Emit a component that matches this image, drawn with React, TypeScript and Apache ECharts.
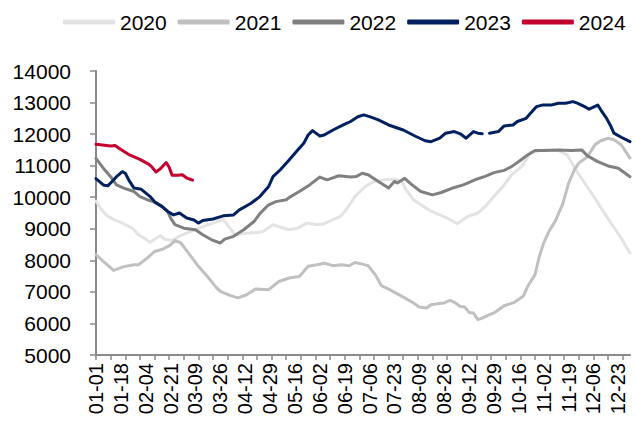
import React, { useEffect, useRef } from "react";
import * as echarts from "echarts";

// Category axis: every day of a leap year, labelled MM-DD
const monthLengths = [31, 29, 31, 30, 31, 30, 31, 31, 30, 31, 30, 31];
const categories: string[] = [];
monthLengths.forEach((n, m) => {
  for (let d = 1; d <= n; d++) {
    categories.push(String(m + 1).padStart(2, "0") + "-" + String(d).padStart(2, "0"));
  }
});

const yTicks = [5000, 14000, 1000]; // min, max, step

const dates2020 = ["01-01","01-04","01-08","01-13","01-18","01-21","01-26","01-30","02-03","02-07","02-10","02-14","02-17","02-22","02-26","03-03","03-09","03-14","03-21","03-28","04-01","04-05","04-13","04-20","04-24","05-01","05-06","05-12","05-18","05-24","05-31","06-05","06-11","06-16","06-20","06-23","06-26","07-03","07-09","07-16","07-23","07-28","07-31","08-05","08-10","08-17","08-24","08-29","09-04","09-11","09-18","09-23","09-29","10-06","10-11","10-18","10-24","11-01","11-12","11-18","11-24","11-30","12-07","12-12","12-18","12-25","12-31"];
const values2020 = [9880,9650,9440,9290,9200,9130,9020,8810,8700,8570,8670,8780,8670,8630,8740,8860,8970,9070,9180,9300,9050,8810,8860,8880,8910,9130,9050,8970,9020,9180,9130,9160,9290,9390,9600,9810,10020,10340,10500,10550,10570,10500,10230,9920,9760,9560,9420,9320,9160,9390,9500,9700,10020,10390,10710,10970,11400,11500,11480,11340,10870,10450,9970,9600,9180,8700,8230];

const dates2021 = ["01-01","01-06","01-13","01-20","01-27","01-30","02-05","02-10","02-16","02-21","02-24","02-28","03-05","03-11","03-18","03-23","03-26","04-02","04-07","04-13","04-19","04-28","05-05","05-12","05-19","05-25","05-31","06-05","06-11","06-17","06-22","06-26","07-01","07-05","07-10","07-14","07-19","07-24","07-30","08-05","08-09","08-14","08-17","08-23","08-26","08-30","09-02","09-06","09-09","09-12","09-15","09-18","09-21","09-26","09-29","10-06","10-13","10-19","10-22","10-27","10-30","11-02","11-06","11-10","11-15","11-19","11-23","11-26","12-02","12-07","12-11","12-16","12-20","12-25","12-31"];
const values2021 = [8180,7965,7680,7800,7860,7860,8070,8280,8360,8490,8630,8550,8180,7810,7440,7150,7015,6880,6810,6910,7090,7070,7330,7440,7490,7810,7860,7910,7830,7860,7830,7930,7880,7830,7540,7200,7090,6960,6810,6650,6520,6490,6590,6630,6650,6730,6670,6540,6520,6350,6330,6120,6170,6280,6330,6560,6670,6860,7170,7540,8120,8550,8950,9250,9780,10440,10870,11080,11290,11660,11790,11870,11820,11660,11240];

const dates2022 = ["01-01","01-06","01-11","01-15","01-20","01-27","01-31","02-05","02-09","02-15","02-19","02-21","02-24","03-01","03-09","03-14","03-20","03-26","03-29","04-04","04-11","04-18","04-22","04-28","05-03","05-10","05-13","05-19","05-26","06-02","06-07","06-15","06-23","06-27","07-01","07-05","07-12","07-19","07-23","07-25","07-30","08-04","08-10","08-18","08-24","09-02","09-08","09-11","09-17","09-23","09-29","10-06","10-11","10-16","10-22","10-27","11-03","11-12","11-21","11-28","12-02","12-09","12-16","12-23","12-31"];
const values2022 = [11230,10920,10650,10390,10290,10180,10020,9920,9860,9710,9550,9340,9130,9020,8970,8810,8650,8550,8670,8760,8970,9230,9480,9760,9860,9920,10020,10180,10390,10640,10550,10680,10640,10660,10760,10710,10500,10290,10500,10450,10600,10390,10180,10075,10150,10310,10390,10450,10570,10660,10780,10850,10970,11130,11340,11480,11480,11500,11480,11500,11310,11130,10990,10920,10650];

const dates2023 = ["01-01","01-06","01-09","01-12","01-15","01-19","01-21","01-24","01-27","02-01","02-07","02-10","02-15","02-19","02-23","02-27","03-03","03-08","03-11","03-14","03-21","03-28","04-04","04-08","04-16","04-22","04-28","05-01","05-06","05-12","05-17","05-22","05-25","05-28","06-02","06-05","06-11","06-18","06-23","06-28","07-02","07-07","07-12","07-19","07-29","08-06","08-13","08-17","08-23","08-27","09-02","09-06","09-10","09-15","09-18","09-21","09-23","09-26","10-02","10-06","10-12","10-15","10-21","10-24","10-28","11-01","11-07","11-12","11-17","11-22","11-25","11-30","12-03","12-09","12-11","12-15","12-18","12-20","12-25","12-31"];
const values2023: (number | null)[] = [10590,10390,10360,10500,10650,10810,10760,10500,10290,10250,10020,9860,9710,9550,9440,9500,9340,9280,9180,9260,9310,9410,9440,9600,9810,10020,10340,10650,10870,11180,11450,11710,11970,12110,11940,11970,12130,12290,12400,12550,12610,12540,12450,12290,12130,11940,11790,11760,11870,12030,12080,12010,11870,12080,12030,12010,null,12030,12080,12260,12290,12400,12500,12660,12870,12920,12920,12980,12980,13030,12980,12870,12790,12920,12770,12500,12240,12030,11900,11760];

const dates2024 = ["01-01","01-11","01-14","01-18","01-24","01-31","02-06","02-08","02-11","02-14","02-18","02-20","02-22","02-26","02-29","03-03","03-07"];
const values2024 = [11680,11620,11640,11510,11340,11200,11050,10970,10800,10900,11100,10950,10700,10700,10710,10610,10540];

const seriesNames = ["2020", "2021", "2022", "2023", "2024"];
const seriesColors = ["#e3e3e3", "#c0c0c0", "#808080", "#002060", "#c4002f"];

const toPairs = (dates: string[], vals: (number | null)[]) =>
  dates.map((d, i) => [categories.indexOf(d), vals[i]]);

const FONT = 'Arial, "Liberation Sans", sans-serif';

export default function App() {
  const ref = useRef<HTMLDivElement>(null);
  useEffect(() => {
    if (!ref.current) return;
    const chart = echarts.init(ref.current, undefined, { renderer: "svg" });
    const data = [
      toPairs(dates2020, values2020),
      toPairs(dates2021, values2021),
      toPairs(dates2022, values2022),
      toPairs(dates2023, values2023),
      toPairs(dates2024, values2024),
    ];
    chart.setOption({
      animation: false,
      backgroundColor: "#ffffff",
      textStyle: { fontFamily: FONT },
      legend: {
        left: 58,
        top: 6,
        width: 600,
        itemWidth: 52,
        itemHeight: 5,
        itemGap: 11,
        icon: "roundRect",
        textStyle: { fontSize: 21, color: "#000", fontFamily: FONT, lineHeight: 22 },
        data: seriesNames,
      },
      grid: { left: 96, right: 5, top: 71, bottom: 68, containLabel: false },
      xAxis: {
        type: "category",
        data: categories,
        boundaryGap: false,
        axisLine: { lineStyle: { color: "#8a8a8a", width: 2 } },
        axisTick: { interval: 9, length: 5, lineStyle: { color: "#8a8a8a", width: 1.5 } },
        axisLabel: {
          interval: 16,
          rotate: 90,
          fontSize: 20,
          color: "#000",
          fontFamily: FONT,
          margin: 8,
        },
        splitLine: { show: false },
      },
      yAxis: {
        type: "value",
        min: yTicks[0],
        max: yTicks[1],
        interval: yTicks[2],
        axisLine: { show: true, lineStyle: { color: "#8a8a8a", width: 2 } },
        axisTick: { show: true, length: 6, lineStyle: { color: "#8a8a8a", width: 1.5 } },
        axisLabel: {
          fontSize: 21,
          color: "#000",
          fontFamily: FONT,
          margin: 25,
          formatter: (v: number) => String(v),
        },
        splitLine: { show: false },
      },
      series: seriesNames.map((name, i) => ({
        name,
        type: "line",
        data: data[i],
        symbol: "none",
        showSymbol: false,
        connectNulls: false,
        z: i + 2,
        itemStyle: { color: seriesColors[i] },
        lineStyle: { color: seriesColors[i], width: 3, cap: "round", join: "round" },
      })),
    });
    return () => chart.dispose();
  }, []);
  return (
    <div
      ref={ref}
      style={{ position: "absolute", left: 0, top: 0, width: 635, height: 423, background: "#fff" }}
    />
  );
}
